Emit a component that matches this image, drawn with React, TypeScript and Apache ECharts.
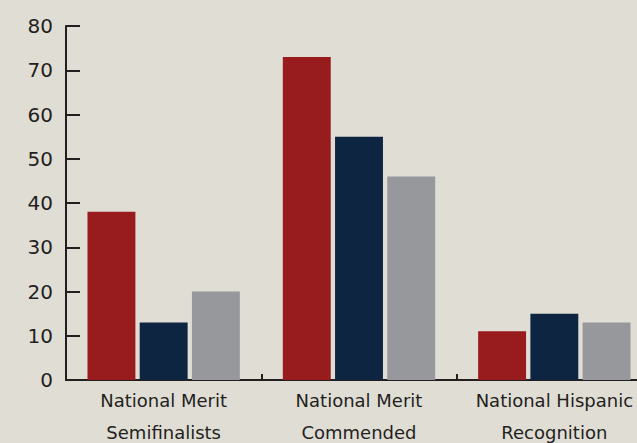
import React, { useEffect, useRef } from "react";
import * as echarts from "echarts";

const categories = ["National Merit\nSemifinalists", "National Merit\nCommended", "National Hispanic\nRecognition"];
const seriesA = [38, 73, 11];
const seriesB = [13, 55, 15];
const seriesC = [20, 46, 13];
const colors = ["#981b1e", "#0e2542", "#97989c"];

const FONT = "'DejaVu Sans', sans-serif";

export default function App() {
  const ref = useRef<HTMLDivElement>(null);
  useEffect(() => {
    const chart = echarts.init(ref.current!, null, { renderer: "svg" });
    const mk = (data: number[], i: number) => ({
      type: "bar",
      data,
      barGap: "9%",
      barCategoryGap: "22%",
      itemStyle: { color: colors[i] },
    });
    chart.setOption({
      animation: false,
      backgroundColor: "#e0ddd5",
      grid: { left: 66, top: 26, bottom: 63, width: 586, containLabel: false, outerBoundsMode: "none" },
      xAxis: {
        type: "category",
        data: categories,
        axisLine: { lineStyle: { color: "#231f20", width: 2 } },
        axisTick: { show: true, inside: true, length: 6, lineStyle: { color: "#231f20", width: 2 } },
        axisLabel: { interval: 0, color: "#231f20", fontFamily: FONT, fontSize: 18, lineHeight: 32, margin: 4 },
      },
      yAxis: {
        type: "value",
        min: 0,
        max: 80,
        interval: 10,
        splitLine: { show: false },
        axisLine: { show: true, lineStyle: { color: "#231f20", width: 2 } },
        axisTick: { show: true, inside: true, length: 14, lineStyle: { color: "#231f20", width: 2 } },
        axisLabel: { color: "#231f20", fontFamily: FONT, fontSize: 20, margin: 13 },
      },
      series: [mk(seriesA, 0), mk(seriesB, 1), mk(seriesC, 2)],
    });
    return () => chart.dispose();
  }, []);
  return <div ref={ref} style={{ position: "fixed", left: 0, top: 0, width: 637, height: 443 }} />;
}
